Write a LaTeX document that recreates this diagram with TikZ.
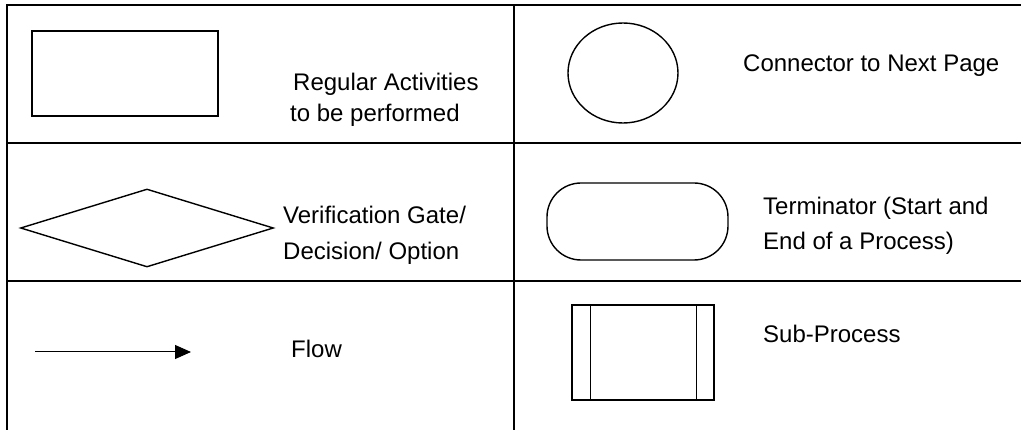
\documentclass[tikz,border=0pt]{standalone}
\usepackage{fontspec}
\setmainfont{Liberation Sans}
\usetikzlibrary{arrows.meta,shapes.geometric}
\begin{document}
\begin{tikzpicture}[x=1pt,y=-1pt,
  grid/.style={line width=2pt},
  symb/.style={draw,line width=1.4pt,inner sep=0pt},
  lbl/.style={anchor=base west,inner sep=0pt,font=\fontsize{24}{28}\selectfont}]
\useasboundingbox (0,0) rectangle (1021,430);
% table rules
\draw[grid] (7,430) -- (7,5) -- (1021,5);
\draw[grid] (514,5) -- (514,430);
\draw[grid] (7,143) -- (1021,143);
\draw[grid] (7,281) -- (1021,281);
% row 1
\node[symb,rectangle,minimum width=186pt,minimum height=85pt] (proc) at (125,73.5) {};
\node[lbl] (proct1) at (293,91) {Regular Activities};
\node[lbl] (proct2) at (290,122) {to be performed};
\node[symb,ellipse,minimum width=110pt,minimum height=100pt] (conn) at (623,73) {};
\node[lbl] (connt) at (743,72) {Connector to Next Page};
% row 2
\node[symb,diamond,minimum width=253pt,minimum height=78pt,aspect=3.2] (dec) at (147,228) {};
\node[lbl] (dect1) at (283,224) {Verification Gate/};
\node[lbl] (dect2) at (283,260) {Decision/ Option};
\node[symb,rectangle,rounded corners=34pt,minimum width=181pt,minimum height=77pt] (term) at (637.5,221.5) {};
\node[lbl] (termt1) at (763,215) {Terminator (Start and};
\node[lbl] (termt2) at (763,250) {End of a Process)};
% row 3
\coordinate (fa) at (35,352);
\coordinate (fb) at (191,352);
\draw[line width=1pt,-{Triangle[length=16pt,width=14pt]}] (fa) -- (fb);
\node[lbl] (flowt) at (291,358) {Flow};
\node[symb,rectangle,minimum width=142pt,minimum height=95pt] (sub) at (643,352.5) {};
\draw[line width=1.4pt] ([xshift=19pt]sub.north west) -- ([xshift=19pt]sub.south west);
\draw[line width=1.4pt] ([xshift=-18pt]sub.north east) -- ([xshift=-18pt]sub.south east);
\node[lbl] (subt) at (763,343) {Sub-Process};
\end{tikzpicture}
\end{document}
